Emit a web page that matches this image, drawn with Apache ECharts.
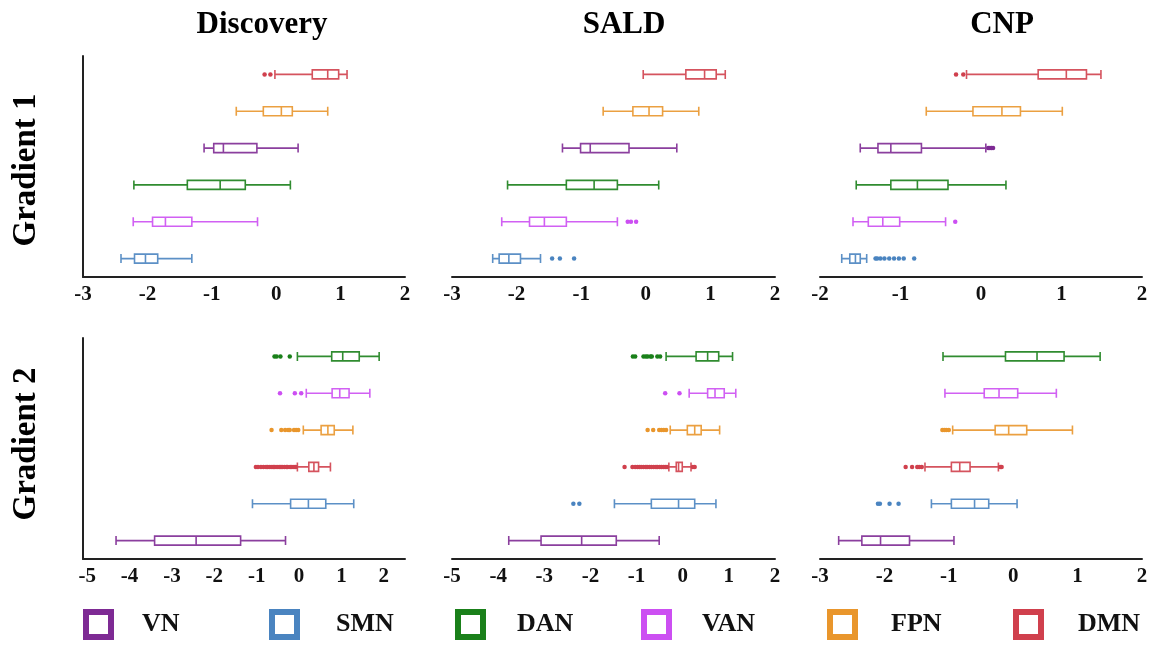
<!DOCTYPE html>
<html><head><meta charset="utf-8">
<script src="https://cdn.jsdelivr.net/npm/echarts@6/dist/echarts.min.js"></script>
<style>html,body{margin:0;padding:0;background:#fff}#c{width:1153px;height:645px}</style>
</head><body><div id="c"></div>
<script>
// ---------- data ----------
const networks = ['VN', 'SMN', 'DAN', 'VAN', 'FPN', 'DMN'];
const networkColors = ['#7e2a94', '#4a84c0', '#1a801a', '#cc4ff2', '#e9962c', '#d0404d'];
const panelTitles = ['Discovery', 'SALD', 'CNP'];
const rowTitles = ['Gradient 1', 'Gradient 2'];

// category order, bottom to top
const orderG1 = ['SMN', 'VAN', 'DAN', 'VN', 'FPN', 'DMN'];
const orderG2 = ['VN', 'SMN', 'DMN', 'FPN', 'VAN', 'DAN'];

// tick labels
const ticksDiscoveryG1 = [-3, -2, -1, 0, 1, 2];
const ticksSaldG1 = [-3, -2, -1, 0, 1, 2];
const ticksCnpG1 = [-2, -1, 0, 1, 2];
const ticksDiscoveryG2 = [-5, -4, -3, -2, -1, 0, 1, 2];
const ticksSaldG2 = [-5, -4, -3, -2, -1, 0, 1, 2];
const ticksCnpG2 = [-3, -2, -1, 0, 1, 2];

// box stats [min, Q1, median, Q3, max], in category order
const discoveryG1Box = [
  [-2.41, -2.20, -2.03, -1.84, -1.31],
  [-2.22, -1.92, -1.72, -1.31, -0.29],
  [-2.21, -1.38, -0.87, -0.48, 0.22],
  [-1.12, -0.97, -0.82, -0.30, 0.34],
  [-0.62, -0.20, 0.08, 0.25, 0.80],
  [-0.02, 0.56, 0.80, 0.97, 1.10]
];
const discoveryG1Out = [[], [], [], [], [], [-0.18, -0.09]];

const saldG1Box = [
  [-2.37, -2.27, -2.12, -1.94, -1.63],
  [-2.23, -1.80, -1.57, -1.23, -0.44],
  [-2.14, -1.23, -0.80, -0.44, 0.20],
  [-1.29, -1.01, -0.86, -0.26, 0.48],
  [-0.66, -0.20, 0.05, 0.26, 0.82],
  [-0.04, 0.62, 0.91, 1.09, 1.23]
];
const saldG1Out = [[-1.45, -1.33, -1.11], [-0.28, -0.23, -0.15], [], [], [], []];

const cnpG1Box = [
  [-1.73, -1.63, -1.56, -1.50, -1.42],
  [-1.59, -1.40, -1.22, -1.01, -0.44],
  [-1.55, -1.12, -0.79, -0.41, 0.31],
  [-1.50, -1.28, -1.12, -0.74, 0.06],
  [-0.68, -0.10, 0.26, 0.49, 1.01],
  [-0.18, 0.71, 1.06, 1.31, 1.49]
];
const cnpG1Out = [
  [-1.31, -1.29, -1.25, -1.20, -1.14, -1.08, -1.02, -0.96, -0.83],
  [-0.32], [], [0.09, 0.11, 0.13, 0.15], [], [-0.31, -0.22]
];

const discoveryG2Box = [
  [-4.32, -3.41, -2.43, -1.38, -0.32],
  [-1.10, -0.20, 0.22, 0.63, 1.29],
  [-0.04, 0.23, 0.35, 0.46, 0.74],
  [0.10, 0.52, 0.68, 0.83, 1.27],
  [0.17, 0.78, 0.96, 1.18, 1.67],
  [-0.04, 0.77, 1.03, 1.42, 1.89]
];
const discoveryG2Out = [
  [], [],
  [-1.02, -0.97, -0.90, -0.84, -0.78, -0.74, -0.69, -0.64, -0.60, -0.57, -0.52, -0.47, -0.43, -0.40, -0.35, -0.30, -0.27, -0.21, -0.17, -0.12, -0.08],
  [-0.65, -0.42, -0.33, -0.26, -0.22, -0.12, -0.07, -0.02],
  [-0.45, -0.10, 0.05],
  [-0.58, -0.53, -0.44, -0.22]
];

const saldG2Box = [
  [-3.77, -3.07, -2.19, -1.44, -0.51],
  [-1.48, -0.68, -0.09, 0.26, 0.72],
  [-0.30, -0.14, -0.09, -0.01, 0.18],
  [-0.27, 0.10, 0.26, 0.40, 0.80],
  [0.14, 0.54, 0.70, 0.90, 1.15],
  [-0.36, 0.29, 0.54, 0.78, 1.08]
];
const saldG2Out = [
  [],
  [-2.37, -2.24],
  [-1.26, -1.09, -1.03, -0.98, -0.94, -0.90, -0.85, -0.80, -0.77, -0.72, -0.68, -0.63, -0.58, -0.55, -0.50, -0.46, -0.42, -0.38, -0.34, 0.22, 0.26],
  [-0.76, -0.64, -0.51, -0.46, -0.41, -0.36],
  [-0.38, -0.07],
  [-1.08, -1.03, -0.85, -0.80, -0.76, -0.70, -0.67, -0.55, -0.49]
];

const cnpG2Box = [
  [-2.71, -2.35, -2.06, -1.61, -0.92],
  [-1.27, -0.96, -0.60, -0.38, 0.06],
  [-1.37, -0.96, -0.83, -0.67, -0.23],
  [-0.94, -0.28, -0.07, 0.21, 0.92],
  [-1.06, -0.45, -0.22, 0.07, 0.67],
  [-1.09, -0.12, 0.37, 0.79, 1.35]
];
const cnpG2Out = [
  [],
  [-2.10, -2.07, -1.92, -1.78],
  [-1.67, -1.57, -1.49, -1.46, -1.42, -0.20, -0.18],
  [-1.10, -1.07, -1.04, -1.00],
  [], []
];

// ---------- layout ----------
const panels = [
  { order: orderG1, box: discoveryG1Box, out: discoveryG1Out, ticks: ticksDiscoveryG1, min: -3, max: 2 },
  { order: orderG1, box: saldG1Box, out: saldG1Out, ticks: ticksSaldG1, min: -3, max: 2 },
  { order: orderG1, box: cnpG1Box, out: cnpG1Out, ticks: ticksCnpG1, min: -2, max: 2 },
  { order: orderG2, box: discoveryG2Box, out: discoveryG2Out, ticks: ticksDiscoveryG2, min: -5.1, max: 2.5 },
  { order: orderG2, box: saldG2Box, out: saldG2Out, ticks: ticksSaldG2, min: -5, max: 2 },
  { order: orderG2, box: cnpG2Box, out: cnpG2Out, ticks: ticksCnpG2, min: -3, max: 2 }
];
const gridLeft = [83, 452, 820];
const gridWidth = [322, 323, 322];
const gridTop = [56, 338];
const gridHeight = 221;
const titleX = [262, 624, 1002];
const legendLeft = [83, 269, 455, 641, 827, 1013];
const legendTextPad = [26, 34, 29, 28, 31, 32];

const serif = '"Liberation Serif", "Times New Roman", serif';
const colorOf = n => networkColors[networks.indexOf(n)];

const grids = [], xAxes = [], yAxes = [], series = [];
panels.forEach((p, i) => {
  const col = i % 3, row = Math.floor(i / 3);
  grids.push({ left: gridLeft[col], top: gridTop[row], width: gridWidth[col], height: gridHeight });
  xAxes.push({
    type: 'value', gridIndex: i, min: p.min, max: p.max,
    splitLine: { show: false }, axisTick: { show: false },
    axisLine: { show: true, onZero: false, lineStyle: { color: '#222', width: 2 } },
    axisLabel: { customValues: p.ticks, margin: 7, color: '#111', fontFamily: serif, fontWeight: 'bold', fontSize: 21 }
  });
  yAxes.push({
    type: 'category', gridIndex: i, data: p.order,
    axisLine: { show: col === 0, onZero: false, lineStyle: { color: '#222', width: 2 } },
    axisTick: { show: false }, axisLabel: { show: false }, splitLine: { show: false }
  });
  series.push({
    type: 'boxplot', xAxisIndex: i, yAxisIndex: i, boxWidth: [9, 9], silent: true,
    data: p.box.map((v, k) => ({ value: v, itemStyle: { color: '#fff', borderColor: colorOf(p.order[k]), borderWidth: 1.6, opacity: 0.9 } }))
  });
  p.order.forEach((name, k) => {
    series.push({
      type: 'scatter', name: name, xAxisIndex: i, yAxisIndex: i, symbolSize: 4.5, silent: true,
      itemStyle: { color: colorOf(name), opacity: 1 },
      data: p.out[k].map(v => [v, name])
    });
  });
});

const option = {
  backgroundColor: '#fff',
  animation: false,
  title: panelTitles.map((t, k) => ({
    text: t, left: titleX[k], top: 9, padding: 0, textAlign: 'center',
    textStyle: { fontFamily: serif, fontWeight: 'bold', fontSize: 31, color: '#000' }
  })),
  legend: networks.map((n, k) => ({
    left: legendLeft[k], top: 609, padding: 0, itemWidth: 25, itemHeight: 25,
    icon: 'rect', selectedMode: false,
    data: [{ name: n, itemStyle: { color: '#fff', borderColor: networkColors[k], borderWidth: 6, opacity: 1 } }],
    textStyle: { fontFamily: serif, fontWeight: 'bold', fontSize: 26, color: '#111', padding: [0, 0, 0, legendTextPad[k]] }
  })),
  graphic: rowTitles.map((t, k) => ({
    type: 'text', x: 26, y: k === 0 ? 170 : 444, rotation: Math.PI / 2,
    style: { text: t, font: 'bold 33px ' + serif, fill: '#000', align: 'center', verticalAlign: 'middle' }
  })),
  grid: grids, xAxis: xAxes, yAxis: yAxes, series: series
};
echarts.init(document.getElementById('c')).setOption(option);
</script>
</body></html>
